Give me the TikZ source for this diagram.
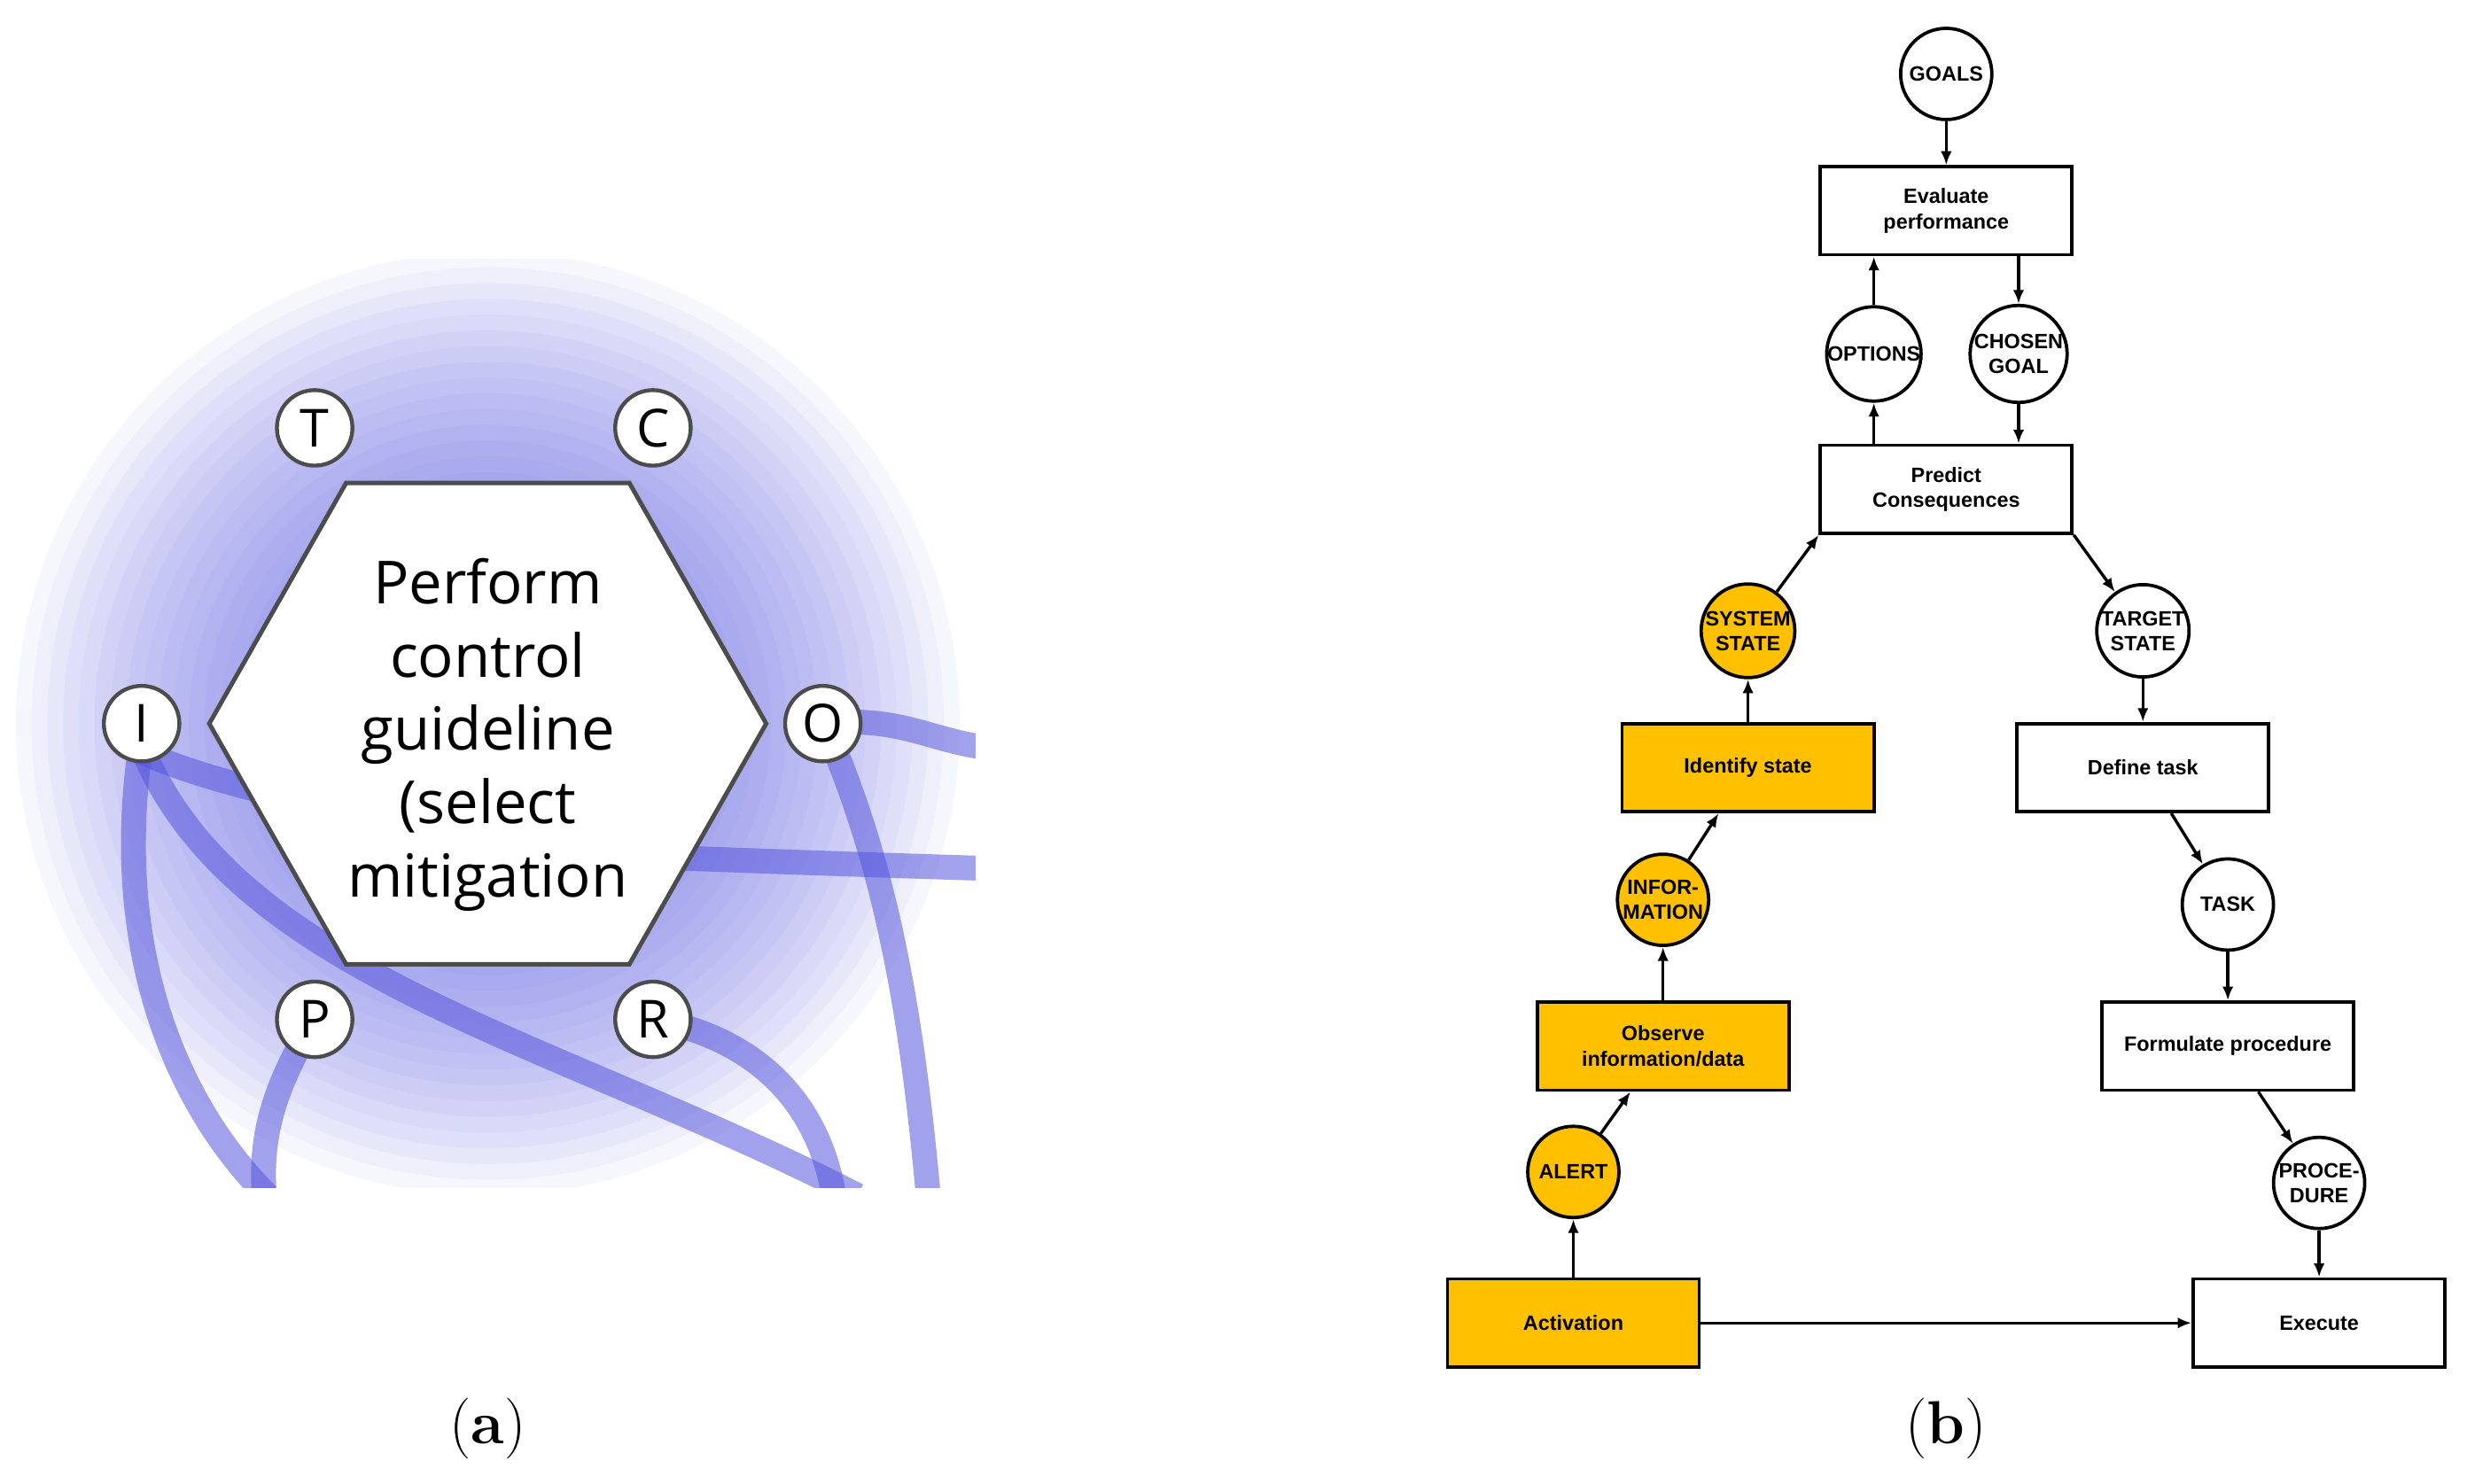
\documentclass[tikz,border=0pt]{standalone}
\usepackage{fontspec}
\setmainfont{Latin Modern Roman}
\newfontfamily\osans{Open Sans}
\newfontfamily\arial{Liberation Sans}
\usetikzlibrary{arrows.meta}
\definecolor{orng}{RGB}{255,192,0}
\definecolor{glow}{RGB}{100,100,225}
\definecolor{band}{RGB}{85,85,220}
\begin{document}
\begin{tikzpicture}[x=0.02cm,y=-0.02cm,
  box/.style={draw,line width=1.2pt,minimum width=3.2cm,minimum height=1.12cm,align=center,font=\arial\bfseries\fontsize{7.5}{9}\selectfont,inner sep=1pt},
  obox/.style={box,fill=orng},
  circ/.style={draw,circle,line width=1.2pt,minimum size=1.16cm,inner sep=0pt,align=center,font=\arial\bfseries\fontsize{7.5}{9}\selectfont,fill=white},
  ocirc/.style={circ,fill=orng},
  arr/.style={-{Latex[length=5pt,width=4pt]},line width=1.1pt},
  port/.style={draw=black!70,circle,line width=1.4pt,fill=white,minimum size=0.96cm,inner sep=0pt,font=\osans\fontsize{19}{20}\selectfont},
  bnd/.style={band,opacity=0.55,line width=9pt}]
\useasboundingbox (0,0) rectangle (1568,943);
% ---------- panel a ----------
\begin{scope}
\clip (0,165) rectangle (620,755);
\foreach \r in {300,290,...,10} \fill[glow,opacity=0.055] (310,460) circle (\r);
\draw[bnd] (523,460) .. controls (570,455) and (590,470) .. (625,475);
\draw[bnd] (530,475) .. controls (565,560) and (580,650) .. (590,760);
\draw[bnd] (420,545) .. controls (500,548) and (560,550) .. (625,552);
\draw[bnd] (90,470) .. controls (70,600) and (110,700) .. (170,760);
\draw[bnd] (90,475) .. controls (150,620) and (350,660) .. (545,760);
\draw[bnd] (90,478) .. controls (150,505) and (250,520) .. (330,535);
\draw[bnd] (415,648) .. controls (480,660) and (520,700) .. (530,760);
\draw[bnd] (200,648) .. controls (175,690) and (165,720) .. (168,760);
\end{scope}
\filldraw[draw=black!70,fill=white,line width=1.6pt] (220,307) -- (400,307) -- (487,460) -- (400,613) -- (220,613) -- (133,460) -- cycle;
\node[align=center,font=\osans\fontsize{21.5}{26.5}\selectfont] (txt) at (310,467) {Perform\\control\\guideline\\(select\\mitigation};
\node[port] (T) at (200,272) {T};
\node[port] (C) at (415,272) {C};
\node[port] (I) at (90,460) {I};
\node[port] (O) at (523,460) {O};
\node[port] (P) at (200,648) {P};
\node[port] (R) at (415,648) {R};
\node[font=\fontsize{22}{24}\selectfont] (la) at (310,908) {(\textbf{a})};
\node[font=\fontsize{22}{24}\selectfont] (lb) at (1237,908) {(\textbf{b})};
% ---------- panel b ----------
\node[box] (eval) at (1237,134) {Evaluate\\performance};
\node[box] (pred) at (1237,311) {Predict\\Consequences};
\node[obox] (ident) at (1111,488) {Identify state};
\node[box] (deft) at (1362,488) {Define task};
\node[obox] (obs) at (1057,665) {Observe\\information/data};
\node[box] (form) at (1416,665) {Formulate procedure};
\node[obox] (act) at (1000,841) {Activation};
\node[box] (exec) at (1474,841) {Execute};
\node[circ] (goals) at (1237,47) {GOALS};
\node[circ] (opt) at (1191,225) {OPTIONS};
\node[circ] (chos) at (1283,225) {CHOSEN\\GOAL};
\node[ocirc] (sys) at (1111,401) {SYSTEM\\STATE};
\node[circ] (targ) at (1362,401) {TARGET\\STATE};
\node[ocirc] (info) at (1057,572) {INFOR-\\MATION};
\node[circ] (task) at (1416,575) {TASK};
\node[ocirc] (alert) at (1000,745) {ALERT};
\node[circ] (proc) at (1474,752) {PROCE-\\DURE};
\draw[arr] (goals) -- (eval);
\draw[arr] (eval.south -| chos) -- (chos);
\draw[arr] (chos) -- (pred.north -| chos);
\draw[arr] (pred.north -| opt) -- (opt);
\draw[arr] (opt) -- (eval.south -| opt);
\draw[arr] (pred.south east) -- (targ);
\draw[arr] (targ) -- (deft);
\draw[arr] (deft) -- (task);
\draw[arr] (task) -- (form);
\draw[arr] (form) -- (proc);
\draw[arr] (proc) -- (exec);
\draw[arr] (act) -- (exec);
\draw[arr] (act) -- (alert);
\draw[arr] (alert) -- (obs);
\draw[arr] (obs) -- (info);
\draw[arr] (info) -- (ident);
\draw[arr] (ident) -- (sys);
\draw[arr] (sys) -- (pred.south west);
\end{tikzpicture}
\end{document}
